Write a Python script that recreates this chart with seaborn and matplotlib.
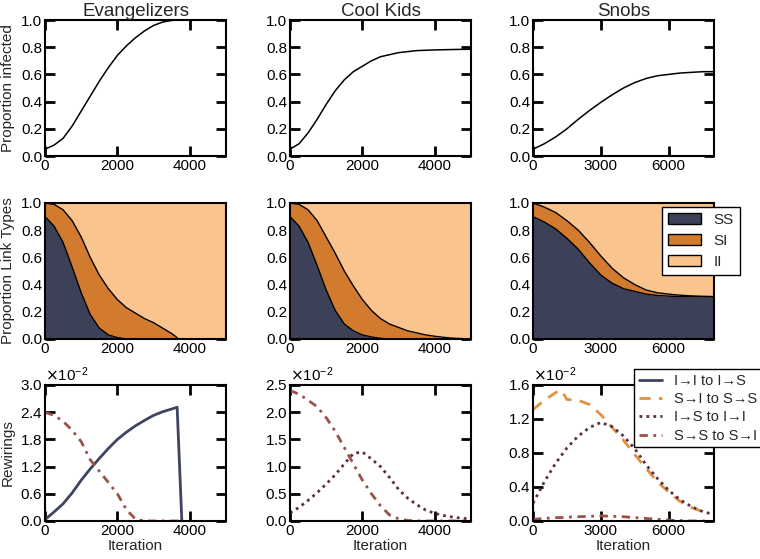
import numpy as np
import matplotlib
matplotlib.use('Agg')
import matplotlib.pyplot as plt
import seaborn as sns
from matplotlib.patches import Patch
from matplotlib.lines import Line2D

# panel titles
groups = ['Evangelizers', 'Cool Kids', 'Snobs']

# ---- top row: proportion infected ----
ev_inf_x = [0, 250, 500, 750, 1000, 1250, 1500, 1750, 2000, 2250, 2500, 2750, 3000, 3250, 3500, 3700]
ev_inf = [0.05, 0.08, 0.13, 0.22, 0.33, 0.44, 0.55, 0.65, 0.74, 0.81, 0.87, 0.92, 0.96, 0.985, 0.997, 1.0]
ck_inf_x = [0, 250, 500, 750, 1000, 1250, 1500, 1750, 2000, 2250, 2500, 3000, 3500, 4000, 4500, 5000]
ck_inf = [0.05, 0.09, 0.17, 0.27, 0.38, 0.48, 0.56, 0.62, 0.66, 0.70, 0.73, 0.76, 0.775, 0.78, 0.783, 0.785]
sn_inf_x = [0, 500, 1000, 1500, 2000, 2500, 3000, 3500, 4000, 4500, 5000, 5500, 6000, 6500, 7000, 7500, 8000]
sn_inf = [0.05, 0.09, 0.14, 0.20, 0.27, 0.335, 0.395, 0.45, 0.50, 0.54, 0.57, 0.59, 0.60, 0.61, 0.615, 0.62, 0.62]

# ---- middle row: link type shares (II is the remainder) ----
link_types = ['SS', 'SI', 'II']
ev_link_x = [0, 250, 500, 750, 1000, 1250, 1500, 1750, 2000, 2250, 2500, 2750, 3000, 3250, 3500, 3700, 4000, 5000]
ev_ss = [0.9, 0.83, 0.71, 0.53, 0.34, 0.18, 0.08, 0.03, 0.01, 0, 0, 0, 0, 0, 0, 0, 0, 0]
ev_si = [0.1, 0.16, 0.24, 0.34, 0.41, 0.42, 0.39, 0.34, 0.28, 0.23, 0.19, 0.15, 0.12, 0.08, 0.04, 0, 0, 0]
ck_link_x = [0, 250, 500, 750, 1000, 1250, 1500, 1750, 2000, 2250, 2500, 2750, 3000, 3250, 3500, 3750, 4000, 4250, 4500, 4750, 5000]
ck_ss = [0.9, 0.83, 0.71, 0.54, 0.36, 0.21, 0.11, 0.06, 0.03, 0.015, 0.005, 0, 0, 0, 0, 0, 0, 0, 0, 0, 0]
ck_si = [0.1, 0.16, 0.24, 0.33, 0.39, 0.42, 0.39, 0.33, 0.26, 0.195, 0.145, 0.11, 0.085, 0.06, 0.045, 0.03, 0.02, 0.012, 0.006, 0.003, 0.0]
sn_link_x = [0, 500, 1000, 1500, 2000, 2500, 3000, 3500, 4000, 4500, 5000, 5500, 6000, 6500, 7000, 7500, 8000]
sn_ss = [0.9, 0.86, 0.81, 0.74, 0.66, 0.56, 0.47, 0.41, 0.37, 0.35, 0.33, 0.32, 0.315, 0.312, 0.31, 0.31, 0.31]
sn_si = [0.10, 0.11, 0.12, 0.13, 0.14, 0.15, 0.14, 0.11, 0.08, 0.05, 0.03, 0.02, 0.015, 0.01, 0.007, 0.004, 0.002]

# ---- bottom row: rewirings (x 1e-2) ----
rewire_names = ['I\u2192I to I\u2192S', 'S\u2192I to S\u2192S', 'I\u2192S to I\u2192I', 'S\u2192S to S\u2192I']
ev_rw_x = [0, 250, 500, 750, 1000, 1250, 1500, 1750, 2000, 2250, 2500, 2750, 3000, 3250, 3500, 3650, 3780]
ev_ii_is = [0.03, 0.2, 0.38, 0.62, 0.9, 1.15, 1.38, 1.6, 1.8, 1.96, 2.1, 2.22, 2.33, 2.41, 2.47, 2.51, 0.0]
ev_si_ss = [0.0] * 17
ev_is_ii = [0.0] * 17
ev_ss_si = [2.4, 2.33, 2.2, 2.0, 1.75, 1.35, 1.1, 0.85, 0.6, 0.25, 0.04, 0.0, 0.0, 0.0, 0.0, 0.0, 0.0]
ck_rw_x = [0, 250, 500, 750, 1000, 1250, 1500, 1750, 2000, 2250, 2500, 2750, 3000, 3250, 3500, 3750, 4000, 4250, 4500, 4750, 5000]
ck_ii_is = [0.0] * 21
ck_si_ss = [0.0] * 21
ck_is_ii = [0.15, 0.25, 0.38, 0.52, 0.68, 0.85, 1.05, 1.24, 1.27, 1.14, 1.0, 0.8, 0.58, 0.42, 0.3, 0.2, 0.14, 0.1, 0.07, 0.05, 0.04]
ck_ss_si = [2.4, 2.33, 2.22, 2.1, 1.9, 1.65, 1.35, 1.05, 0.75, 0.5, 0.28, 0.11, 0.04, 0.01, 0, 0, 0, 0, 0, 0, 0]
sn_rw_x = [0, 500, 1000, 1250, 1500, 2000, 2500, 3000, 3500, 4000, 4500, 5000, 5500, 6000, 6500, 7000, 7500, 7800]
sn_ii_is = [0.0] * 18
sn_si_ss = [1.31, 1.42, 1.51, 1.54, 1.43, 1.42, 1.37, 1.25, 1.1, 0.95, 0.78, 0.62, 0.46, 0.34, 0.23, 0.16, 0.11, 0.09]
sn_is_ii = [0.21, 0.46, 0.68, 0.77, 0.86, 1.0, 1.1, 1.16, 1.11, 1.0, 0.85, 0.66, 0.5, 0.36, 0.25, 0.17, 0.11, 0.09]
sn_ss_si = [0.02, 0.03, 0.04, 0.04, 0.045, 0.05, 0.055, 0.06, 0.055, 0.05, 0.04, 0.03, 0.02, 0.01, 0.005, 0.0, 0.0, 0.0]

x_limits = [5000, 5000, 8000]
x_ticks = [[0, 2000, 4000], [0, 2000, 4000], [0, 3000, 6000]]
rw_ylim = [3.0, 2.5, 1.6]
rw_yticks = [[0, 0.6, 1.2, 1.8, 2.4, 3.0], [0, 0.5, 1.0, 1.5, 2.0, 2.5], [0, 0.4, 0.8, 1.2, 1.6]]

link_colors = ['#3d4158', '#d27b2f', '#f9c48e']
rw_colors = ['#3f4461', '#e0913f', '#5c2e46', '#9b5048']
rw_styles = ['-', (0, (4, 3)), (0, (1, 1.5)), (0, (3, 2, 1, 2))]

sns.set_style('ticks')
plt.rcParams['font.family'] = ['Liberation Sans', 'DejaVu Sans']
plt.rcParams.update({
    'xtick.direction': 'in', 'ytick.direction': 'in',
    'xtick.top': True, 'ytick.right': True,
    'xtick.major.size': 7, 'ytick.major.size': 7,
    'xtick.major.width': 2, 'ytick.major.width': 2,
    'axes.linewidth': 1.5, 'axes.edgecolor': 'black',
    'xtick.labelsize': 11, 'ytick.labelsize': 11,
    'xtick.color': 'black', 'ytick.color': 'black',
    'axes.labelsize': 11, 'axes.titlesize': 13.5,
})

fig = plt.figure(figsize=(7.6, 5.59), dpi=100)
W, H = 760, 559
col_left = [45, 290, 533]
row_top = [20, 203, 385]
ax_w, ax_h = 181, 136
axes = [[fig.add_axes([l / W, 1 - (t + ax_h) / H, ax_w / W, ax_h / H]) for l in col_left] for t in row_top]

inf_data = [(ev_inf_x, ev_inf), (ck_inf_x, ck_inf), (sn_inf_x, sn_inf)]
link_data = [(ev_link_x, ev_ss, ev_si), (ck_link_x, ck_ss, ck_si), (sn_link_x, sn_ss, sn_si)]
rw_data = [(ev_rw_x, [ev_ii_is, ev_si_ss, ev_is_ii, ev_ss_si]),
           (ck_rw_x, [ck_ii_is, ck_si_ss, ck_is_ii, ck_ss_si]),
           (sn_rw_x, [sn_ii_is, sn_si_ss, sn_is_ii, sn_ss_si])]

for j in range(3):
    # proportion infected
    ax = axes[0][j]
    x, y = inf_data[j]
    sns.lineplot(x=x, y=y, ax=ax, color='black', linewidth=1.1, estimator=None, sort=False)
    ax.set_title(groups[j], pad=3)
    ax.set_ylim(0, 1)
    ax.set_yticks([0, 0.2, 0.4, 0.6, 0.8, 1.0])

    # link types, stacked
    ax = axes[1][j]
    x, ss, si = link_data[j]
    x = np.array(x)
    ss = np.array(ss)
    top = ss + np.array(si)
    ax.fill_between(x, 0, ss, color=link_colors[0], linewidth=0)
    ax.fill_between(x, ss, top, color=link_colors[1], linewidth=0)
    ax.fill_between(x, top, 1, color=link_colors[2], linewidth=0)
    ax.plot(x, ss, color='black', linewidth=1)
    ax.plot(x, top, color='black', linewidth=1)
    ax.set_ylim(0, 1)
    ax.set_yticks([0, 0.2, 0.4, 0.6, 0.8, 1.0])

    # rewirings
    ax = axes[2][j]
    x, series = rw_data[j]
    for k, vals in enumerate(series):
        sns.lineplot(x=x, y=np.array(vals) / 100, ax=ax, color=rw_colors[k], linewidth=2,
                     linestyle=rw_styles[k], estimator=None, sort=False)
    ax.set_ylim(0, rw_ylim[j] / 100)
    ax.set_yticks(np.array(rw_yticks[j]) / 100)
    ax.ticklabel_format(axis='y', style='sci', scilimits=(0, 0), useMathText=True)
    ax.yaxis.get_offset_text().set_fontsize(11)
    ax.set_xlabel('Iteration', labelpad=1)

    for i in range(3):
        a = axes[i][j]
        a.set_xlim(0, x_limits[j])
        a.set_xticks(x_ticks[j])
        a.tick_params(pad=2)
        if i < 2:
            a.set_xlabel('')
        a.set_ylabel('')
        for s in a.spines.values():
            s.set_visible(True)

for i, lab in enumerate(['Proportion infected', 'Proportion Link Types', 'Rewirings']):
    axes[i][0].set_ylabel(lab)
    axes[i][0].yaxis.set_label_coords(-0.165, 0.5)

patches = [Patch(facecolor=c, edgecolor='black', label=n) for c, n in zip(link_colors, link_types)]
fig.legend(handles=patches, loc='upper left', bbox_to_anchor=(654 / W, 1 - 199 / H),
           frameon=True, fancybox=False, edgecolor='black', framealpha=1, fontsize=11,
           handlelength=2.2, handleheight=0.8, handletextpad=0.8, borderpad=0.4, labelspacing=0.45)

lines = [Line2D([0], [0], color=c, linestyle=s, linewidth=2, label=n)
         for c, s, n in zip(rw_colors, rw_styles, rewire_names)]
fig.legend(handles=lines, loc='upper left', bbox_to_anchor=(627 / W, 1 - 362 / H),
           frameon=True, fancybox=False, edgecolor='black', framealpha=1, fontsize=10.5,
           handlelength=1.6, handletextpad=0.8, borderpad=0.3, labelspacing=0.3)

fig.savefig('out.png', dpi=100)
